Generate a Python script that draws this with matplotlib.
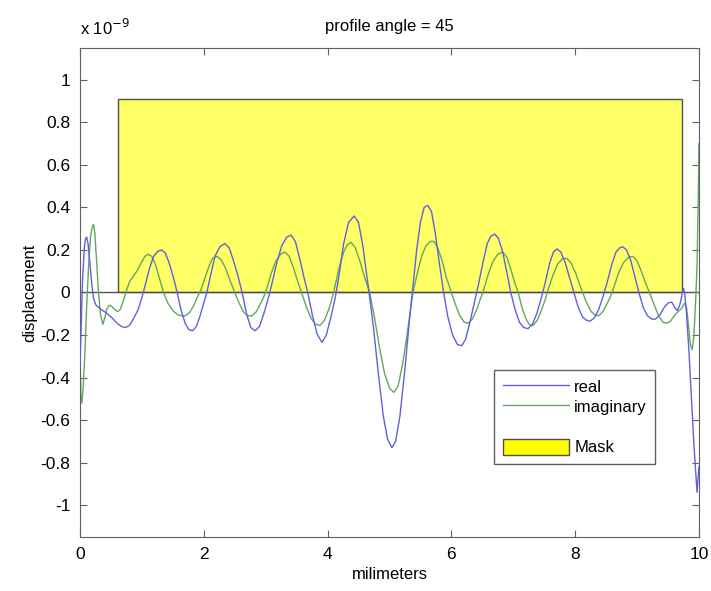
import matplotlib
matplotlib.use("Agg")
import matplotlib.pyplot as plt
from matplotlib.lines import Line2D
from matplotlib.patches import Patch, Rectangle

plt.rcParams["font.family"] = ["Liberation Sans", "DejaVu Sans"]

# (millimeters, displacement in units of 1e-9)
real_points = [
    (0.00, -0.35), (0.02, -0.15), (0.04, 0.05), (0.07, 0.21), (0.09, 0.255), (0.11, 0.26),
    (0.13, 0.23), (0.16, 0.14), (0.19, 0.04), (0.22, -0.03), (0.26, -0.06), (0.32, -0.075),
    (0.42, -0.095), (0.52, -0.12), (0.60, -0.145), (0.67, -0.16), (0.73, -0.165), (0.80, -0.155),
    (0.87, -0.12), (0.94, -0.08), (1.00, -0.025), (1.05, 0.03), (1.12, 0.11), (1.19, 0.17),
    (1.26, 0.195), (1.32, 0.20), (1.38, 0.185), (1.44, 0.14), (1.51, 0.07), (1.57, 0.00),
    (1.63, -0.08), (1.70, -0.145), (1.76, -0.175), (1.82, -0.18), (1.88, -0.16), (1.94, -0.11),
    (2.00, -0.05), (2.05, 0.00), (2.11, 0.08), (2.18, 0.17), (2.26, 0.215), (2.34, 0.23),
    (2.41, 0.21), (2.48, 0.15), (2.55, 0.08), (2.62, 0.00), (2.69, -0.10), (2.76, -0.165),
    (2.83, -0.18), (2.90, -0.16), (2.97, -0.10), (3.04, -0.03), (3.10, 0.04), (3.18, 0.14),
    (3.26, 0.22), (3.34, 0.26), (3.41, 0.27), (3.48, 0.24), (3.55, 0.16), (3.62, 0.07),
    (3.68, 0.00), (3.75, -0.10), (3.83, -0.195), (3.91, -0.235), (3.98, -0.20), (4.05, -0.12),
    (4.12, -0.03), (4.18, 0.07), (4.26, 0.23), (4.34, 0.33), (4.43, 0.36), (4.50, 0.33),
    (4.57, 0.22), (4.62, 0.11), (4.67, 0.00), (4.74, -0.16), (4.82, -0.38), (4.90, -0.58),
    (4.97, -0.69), (5.04, -0.73), (5.10, -0.70), (5.17, -0.58), (5.25, -0.36), (5.32, -0.14),
    (5.38, 0.03), (5.44, 0.20), (5.50, 0.33), (5.56, 0.40), (5.62, 0.41), (5.68, 0.38),
    (5.74, 0.28), (5.80, 0.15), (5.87, 0.01), (5.94, -0.11), (6.02, -0.20), (6.10, -0.245),
    (6.17, -0.25), (6.23, -0.22), (6.30, -0.14), (6.37, -0.05), (6.44, 0.04), (6.51, 0.14),
    (6.58, 0.23), (6.64, 0.265), (6.70, 0.275), (6.76, 0.255), (6.83, 0.19), (6.90, 0.09),
    (6.96, 0.00), (7.03, -0.08), (7.10, -0.14), (7.17, -0.165), (7.24, -0.17), (7.31, -0.15),
    (7.38, -0.10), (7.45, -0.03), (7.52, 0.05), (7.59, 0.14), (7.65, 0.19), (7.71, 0.205),
    (7.77, 0.19), (7.84, 0.14), (7.91, 0.07), (7.98, 0.00), (8.05, -0.07), (8.12, -0.115),
    (8.18, -0.13), (8.24, -0.135), (8.31, -0.12), (8.38, -0.08), (8.45, -0.02), (8.52, 0.05),
    (8.59, 0.13), (8.66, 0.19), (8.72, 0.21), (8.77, 0.215), (8.83, 0.20), (8.90, 0.15),
    (8.97, 0.07), (9.03, 0.00), (9.10, -0.07), (9.17, -0.11), (9.24, -0.125), (9.30, -0.125),
    (9.37, -0.105), (9.44, -0.07), (9.50, -0.05), (9.56, -0.045), (9.61, -0.07), (9.65, -0.085),
    (9.69, -0.06), (9.72, -0.02), (9.75, 0.02), (9.77, 0.00), (9.80, -0.10), (9.84, -0.28),
    (9.88, -0.50), (9.92, -0.72), (9.97, -0.94), (10.0, -0.82),
]

imag_points = [
    (0.00, -0.30), (0.015, -0.48), (0.03, -0.52), (0.05, -0.45), (0.08, -0.28), (0.11, -0.05),
    (0.14, 0.13), (0.17, 0.26), (0.20, 0.31), (0.22, 0.32), (0.24, 0.28), (0.27, 0.14),
    (0.30, 0.00), (0.33, -0.10), (0.37, -0.15), (0.40, -0.12), (0.43, -0.08), (0.47, -0.06),
    (0.51, -0.065), (0.56, -0.08), (0.61, -0.09), (0.65, -0.08), (0.70, -0.04), (0.74, 0.00),
    (0.80, 0.05), (0.87, 0.08), (0.93, 0.105), (0.99, 0.14), (1.05, 0.17), (1.10, 0.18),
    (1.16, 0.17), (1.22, 0.13), (1.28, 0.07), (1.35, 0.00), (1.42, -0.05), (1.50, -0.085),
    (1.58, -0.105), (1.65, -0.11), (1.70, -0.11), (1.77, -0.095), (1.84, -0.06), (1.90, -0.02),
    (1.95, 0.01), (2.02, 0.07), (2.08, 0.12), (2.14, 0.16), (2.21, 0.17), (2.28, 0.155),
    (2.35, 0.115), (2.42, 0.06), (2.50, 0.00), (2.57, -0.05), (2.65, -0.095), (2.72, -0.11),
    (2.78, -0.11), (2.85, -0.09), (2.92, -0.05), (2.97, -0.02), (3.02, 0.02), (3.09, 0.09),
    (3.16, 0.145), (3.24, 0.18), (3.31, 0.19), (3.38, 0.17), (3.45, 0.115), (3.52, 0.05),
    (3.58, 0.00), (3.66, -0.07), (3.74, -0.125), (3.81, -0.15), (3.88, -0.155), (3.95, -0.13),
    (4.02, -0.08), (4.07, -0.03), (4.12, 0.03), (4.19, 0.12), (4.26, 0.19), (4.32, 0.225),
    (4.38, 0.235), (4.45, 0.21), (4.52, 0.15), (4.60, 0.07), (4.68, 0.00), (4.76, -0.12),
    (4.84, -0.26), (4.92, -0.38), (5.00, -0.45), (5.07, -0.47), (5.14, -0.44), (5.21, -0.34),
    (5.28, -0.21), (5.34, -0.08), (5.38, 0.00), (5.45, 0.09), (5.52, 0.17), (5.59, 0.22),
    (5.66, 0.24), (5.72, 0.24), (5.78, 0.21), (5.85, 0.15), (5.92, 0.07), (6.00, 0.00),
    (6.07, -0.06), (6.14, -0.11), (6.21, -0.14), (6.27, -0.145), (6.34, -0.125), (6.41, -0.08),
    (6.47, -0.03), (6.52, 0.01), (6.59, 0.08), (6.67, 0.145), (6.75, 0.18), (6.83, 0.19),
    (6.90, 0.165), (6.97, 0.10), (7.03, 0.04), (7.08, 0.00), (7.14, -0.07), (7.20, -0.12),
    (7.26, -0.15), (7.32, -0.155), (7.39, -0.13), (7.46, -0.08), (7.52, -0.03), (7.56, 0.01),
    (7.64, 0.08), (7.72, 0.135), (7.80, 0.16), (7.87, 0.16), (7.94, 0.135), (8.01, 0.09),
    (8.07, 0.04), (8.12, 0.00), (8.19, -0.05), (8.26, -0.09), (8.32, -0.105), (8.38, -0.11),
    (8.45, -0.09), (8.52, -0.05), (8.57, -0.02), (8.62, 0.02), (8.70, 0.09), (8.78, 0.14),
    (8.86, 0.165), (8.93, 0.17), (9.00, 0.15), (9.07, 0.10), (9.13, 0.05), (9.20, 0.00),
    (9.28, -0.06), (9.35, -0.11), (9.42, -0.14), (9.48, -0.145), (9.54, -0.135), (9.60, -0.11),
    (9.66, -0.09), (9.72, -0.075), (9.77, -0.05), (9.80, -0.07), (9.83, -0.15), (9.86, -0.24),
    (9.89, -0.27), (9.92, -0.20), (9.95, -0.02), (9.97, 0.13), (9.99, 0.45), (10.0, 0.70),
]

mask_start = 0.62
mask_end = 9.73
mask_height = 0.91

yticks = [-1, -0.8, -0.6, -0.4, -0.2, 0, 0.2, 0.4, 0.6, 0.8, 1]
ytick_labels = ["-1", "-0.8", "-0.6", "-0.4", "-0.2", "0", "0.2", "0.4", "0.6", "0.8", "1"]
xticks = [0, 2, 4, 6, 8, 10]

real_x, real_y = zip(*real_points)
imag_x, imag_y = zip(*imag_points)

fig = plt.figure(figsize=(7.11, 5.91), dpi=100)
ax = fig.add_axes([0.1125, 0.0914, 0.8705, 0.8274])

ax.add_patch(Rectangle((mask_start, 0), mask_end - mask_start, mask_height,
                       facecolor="#ffff66", edgecolor="#505050", linewidth=1.0, zorder=1))
ax.axhline(0, color="#505050", linewidth=1.0, zorder=1.5)
ax.plot(real_x, real_y, color="#6060e0", linewidth=1.0, zorder=3)
ax.plot(imag_x, imag_y, color="#60a860", linewidth=1.0, zorder=2)

ax.set_xlim(0, 10)
ax.set_ylim(-1.15, 1.15)
ax.set_xticks(xticks)
ax.set_xticklabels([str(t) for t in xticks])
ax.set_yticks(yticks)
ax.set_yticklabels(ytick_labels)
ax.tick_params(direction="in", length=5, top=True, right=True, labelsize=12.5,
               color="#606060", pad=7)
for s in ax.spines.values():
    s.set_color("#606060")

ax.set_title("profile angle = 45", fontsize=12, pad=12)
ax.set_xlabel("milimeters", fontsize=12, labelpad=4)
ax.set_ylabel("displacement", fontsize=12, labelpad=2)
fig.text(0.1125, 0.935, r"x 10$^{-9}$", fontsize=12, ha="left", va="bottom")

handles = [Line2D([], [], color="#6060e0", linewidth=1.0),
           Line2D([], [], color="#60a860", linewidth=1.0),
           Line2D([], [], color="none"),
           Patch(facecolor="#ffff00", edgecolor="#505050")]
labels = ["real", "imaginary", " ", "Mask"]
leg = ax.legend(handles, labels, loc="lower left", bbox_to_anchor=(0.656, 0.133),
                fontsize=12, handlelength=4.0, handleheight=1.1, handletextpad=0.3,
                fancybox=False, framealpha=1, edgecolor="#606060",
                borderpad=0.5, labelspacing=0.2)
leg.get_frame().set_linewidth(1.0)

plt.savefig("out.png", dpi=100)
